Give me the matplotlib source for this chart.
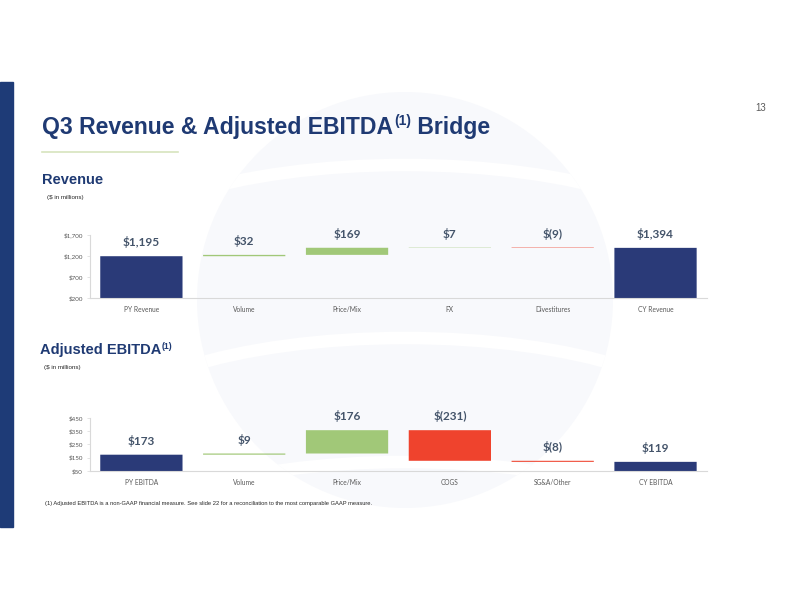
import matplotlib.pyplot as plt
from matplotlib.patches import Circle, Arc
import numpy as np

# revenue bridge ($ in millions)
rev_cats = ['PY Revenue', 'Volume', 'Price/Mix', 'FX', 'Divestitures', 'CY Revenue']
rev_vals = [1195, 32, 169, 7, -9, 1394]
rev_labels = ['$1,195', '$32', '$169', '$7', '$(9)', '$1,394']
rev_ticks = [200, 700, 1200, 1700]
rev_ticklabels = ['$200', '$700', '$1,200', '$1,700']

# adjusted EBITDA bridge
ebitda_cats = ['PY EBITDA', 'Volume', 'Price/Mix', 'COGS', 'SG&A/Other', 'CY EBITDA']
ebitda_vals = [173, 9, 176, -231, -8, 119]
ebitda_labels = ['$173', '$9', '$176', '$(231)', '$(8)', '$119']
ebitda_ticks = [50, 150, 250, 350, 450]
ebitda_ticklabels = ['$50', '$150', '$250', '$350', '$450']

NAVY = '#1F3A73'
BAR_NAVY = '#2A3A78'
GREEN = '#A1C878'
RED = '#EF432D'
LABEL = '#44546A'
GREY = '#595959'

fig = plt.figure(figsize=(7.92, 6.12), dpi=100)

# faint globe watermark behind everything (pixel coords, y flipped)
bg = fig.add_axes([0, 0, 1, 1], zorder=-5)
bg.set_xlim(0, 792)
bg.set_ylim(0, 612)
bg.axis('off')
globe = Circle((405, 612 - 300), 208, color='#F8F9FC', lw=0)
bg.add_patch(globe)
for gy in [165, 338, 462]:
    a = Arc((405, 612 - gy - 100), 620, 200, theta1=0, theta2=180,
            color='white', lw=9)
    bg.add_patch(a)
    a.set_clip_path(globe)


def waterfall(ax, cats, vals, labels, ticks, ticklabels, ymin):
    n = len(vals)
    run = 0
    for i, v in enumerate(vals):
        if i == 0 or i == n - 1:
            bottom, height, color = 0, v, BAR_NAVY
            top = v
            run = v
        else:
            if v >= 0:
                bottom, height, color = run, v, GREEN
            else:
                bottom, height, color = run + v, -v, RED
            top = max(run, run + v)
            run = run + v
        ax.bar(i, height, bottom=bottom, width=0.8, color=color, edgecolor='none', snap=False)
        ax.annotate(labels[i], (i, top), xytext=(0, 10), textcoords='offset points',
                    ha='center', va='center', fontsize=8.5, fontweight='bold',
                    color=LABEL, family='Lato', annotation_clip=False)
    ax.set_xlim(-0.5, n - 0.5)
    ax.set_ylim(ymin, ticks[-1])
    ax.set_yticks(ticks)
    ax.set_yticklabels(ticklabels, fontsize=4.5, color=GREY, family='Lato')
    ax.set_xticks(range(n))
    ax.set_xticklabels(cats, fontsize=4.8, color=GREY, family='Lato')
    ax.tick_params(axis='x', length=0, pad=6)
    ax.tick_params(axis='y', length=2, width=0.5, color='#D9D9D9', pad=3)
    for s in ['top', 'right']:
        ax.spines[s].set_visible(False)
    for s in ['left', 'bottom']:
        ax.spines[s].set_color('#D9D9D9')
        ax.spines[s].set_linewidth(0.8)
    ax.patch.set_alpha(0)


ax1 = fig.add_axes([0.1136, 0.5131, 0.779, 0.1029])
waterfall(ax1, rev_cats, rev_vals, rev_labels, rev_ticks, rev_ticklabels, 200)

ax2 = fig.add_axes([0.1136, 0.2304, 0.779, 0.0866])
waterfall(ax2, ebitda_cats, ebitda_vals, ebitda_labels, ebitda_ticks, ebitda_ticklabels, 50)

# slide decoration
fig.patches.append(plt.Rectangle((0, 0.139), 0.0164, 0.727, transform=fig.transFigure,
                                 color='#1E3B77', zorder=0))
fig.add_artist(plt.Line2D([0.053, 0.225], [0.752, 0.752], color='#D7E4BE', lw=1.2))
fig.text(0.961, 0.823, '13', fontsize=7, color=GREY, family='Liberation Sans', ha='center', va='center')


def sup_text(x, y, main, sup, rest, size):
    r = fig.canvas.get_renderer()
    t = fig.text(x, y, main, fontsize=size, fontweight='bold', color=NAVY,
                 family='Liberation Sans', va='baseline')
    x2 = t.get_window_extent(r).x1 / fig.bbox.width
    y2 = y + size * 0.4 / 72 * 100 / fig.bbox.height
    t2 = fig.text(x2 + 0.001, y2, sup, fontsize=size * 0.6, fontweight='bold',
                  color=NAVY, family='Liberation Sans', va='baseline')
    if rest:
        x3 = t2.get_window_extent(r).x1 / fig.bbox.width
        fig.text(x3, y, rest, fontsize=size, fontweight='bold',
                 color=NAVY, family='Liberation Sans', va='baseline')


sup_text(0.053, 0.781, 'Q3 Revenue & Adjusted EBITDA', '(1)', ' Bridge', 16.6)
fig.text(0.053, 0.700, 'Revenue', fontsize=10.5, fontweight='bold', color=NAVY,
         family='Liberation Sans', va='baseline')
fig.text(0.059, 0.677, '($ in millions)', fontsize=4.5, color='#262626',
         family='Liberation Sans', va='center')
sup_text(0.050, 0.421, 'Adjusted EBITDA', '(1)', '', 10.5)
fig.text(0.056, 0.400, '($ in millions)', fontsize=4.5, color='#262626',
         family='Liberation Sans', va='center')
fig.text(0.057, 0.178, '(1) Adjusted EBITDA is a non-GAAP financial measure. See slide 22 for a '
         'reconciliation to the most comparable GAAP measure.', fontsize=4.15, color='#262626',
         family='Liberation Sans', va='center')

fig.savefig('out.png', dpi=100)
